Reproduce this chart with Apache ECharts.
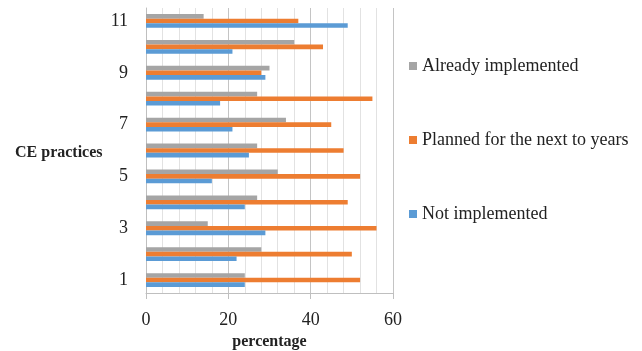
<!DOCTYPE html>
<html>
<head>
<meta charset="utf-8">
<script src="https://cdn.jsdelivr.net/npm/echarts@6/dist/echarts.min.js"></script>
<style>
  html, body { margin: 0; padding: 0; background: #fff; }
  #chart { width: 642px; height: 351px; }
</style>
</head>
<body>
<div id="chart"></div>
<script>
// CE practice numbers on the category axis
const practices = ['1', '2', '3', '4', '5', '6', '7', '8', '9', '10', '11'];

// Percentages per practice
const alreadyImplemented = [24, 28, 15, 27, 32, 27, 34, 27, 30, 36, 14];
const plannedNextYears = [52, 50, 56, 49, 52, 48, 45, 55, 28, 43, 37];
const notImplemented = [24, 22, 29, 24, 16, 25, 21, 18, 29, 21, 49];

// Series listed top-to-bottom within each category group
const seriesNames = ['Already implemented', 'Planned for the next to years', 'Not implemented'];
const seriesColors = ['#A5A5A5', '#ED7D31', '#5B9BD5'];

const serif = '"Liberation Serif", "Times New Roman", serif';

const chart = echarts.init(document.getElementById('chart'), null, { renderer: 'canvas' });

const values = [alreadyImplemented, plannedNextYears, notImplemented];

chart.setOption({
  backgroundColor: '#ffffff',
  animation: false,
  grid: { left: 146, right: 249, top: 8, bottom: 58, containLabel: false, outerBoundsMode: 'none' },
  legend: {
    orient: 'vertical',
    left: 404,
    top: 52,
    itemWidth: 8,
    itemHeight: 8,
    itemGap: 56,
    icon: 'rect',
    data: seriesNames,
    textStyle: { fontFamily: serif, fontSize: 18, color: '#222' }
  },
  xAxis: {
    type: 'value',
    min: 0,
    max: 60,
    interval: 20,
    name: 'percentage',
    nameLocation: 'middle',
    nameGap: 32,
    nameTextStyle: { fontFamily: serif, fontSize: 16, fontWeight: 'bold', color: '#222' },
    axisLine: { show: true, lineStyle: { color: '#bfbfbf', width: 1 } },
    axisTick: { show: true, length: 6, lineStyle: { color: '#bfbfbf' } },
    axisLabel: { fontFamily: serif, fontSize: 18, color: '#222', margin: 18 },
    splitLine: { show: true, lineStyle: { color: '#c4c4c4', width: 1 } },
    minorTick: { show: false, splitNumber: 5 },
    minorSplitLine: { show: true, lineStyle: { color: '#e2e2e2', width: 1 } }
  },
  yAxis: {
    type: 'category',
    data: practices,
    axisLine: { show: true, lineStyle: { color: '#bfbfbf' } },
    axisTick: { show: false },
    axisLabel: { interval: 1, fontFamily: serif, fontSize: 18, color: '#222', margin: 18 },
    splitLine: { show: false }
  },
  graphic: [{
    type: 'text',
    left: 15,
    top: 145,
    style: { text: 'CE practices', font: 'bold 16px ' + serif, fill: '#222' }
  }],
  series: seriesNames.map((name, i) => ({
    name: name,
    type: 'bar',
    data: values[i],
    barWidth: 4.6,
    barGap: '0%',
    itemStyle: { color: seriesColors[i] }
  }))
});
</script>
</body>
</html>
